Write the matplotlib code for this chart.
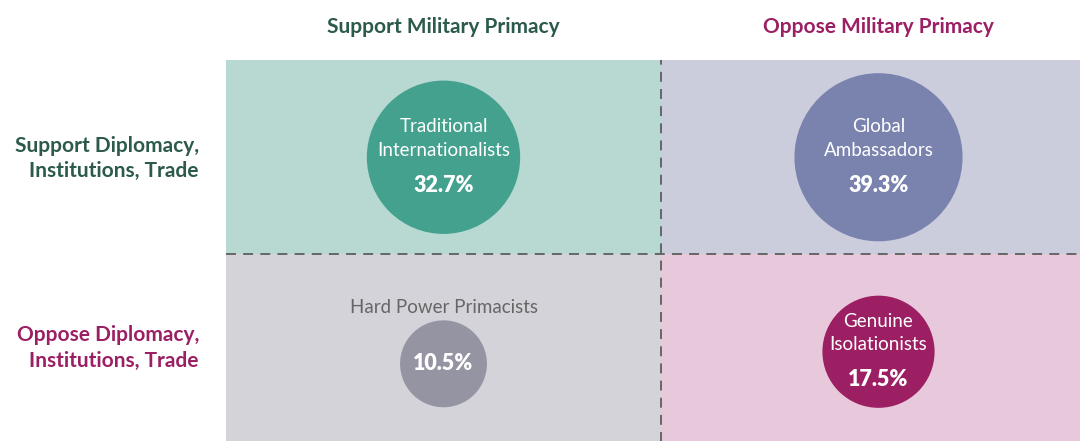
import matplotlib
matplotlib.use('Agg')
from matplotlib import pyplot as plt
from matplotlib.patches import Rectangle

plt.rcParams['font.family'] = ['Lato', 'DejaVu Sans']

# data
col_labels = ['Support Military Primacy', 'Oppose Military Primacy']
row_labels = ['Support Diplomacy,\nInstitutions, Trade', 'Oppose Diplomacy,\nInstitutions, Trade']
segments = ['Traditional\nInternationalists', 'Global\nAmbassadors', 'Hard Power Primacists', 'Genuine\nIsolationists']
shares = [32.7, 39.3, 10.5, 17.5]
seg_col = [0, 1, 0, 1]
seg_row = [0, 0, 1, 1]

header_colors = ['#2c5a4c', '#9c1f63']
bg_colors = ['#b7d9d2', '#cbcddd', '#d4d3d9', '#e8c9dc']
dot_colors = ['#43a18e', '#7a82ae', '#9594a3', '#9c1f63']

W, H = 1080, 441
fig = plt.figure(figsize=(W / 100, H / 100), dpi=100)
# quadrant grid runs a bit past the right and bottom edges
ax = fig.add_axes([226 / W, -8 / H, 870 / W, 389 / H])
ax.set_xlim(0, 2)
ax.set_ylim(2, 0)
ax.axis('off')

for i in range(4):
    ax.add_patch(Rectangle((seg_col[i], seg_row[i]), 1, 1, facecolor=bg_colors[i],
                           edgecolor='none', zorder=0))

ax.axvline(1, color='#5e5e5e', lw=1.3, linestyle=(0, (5.5, 4)), zorder=1)
ax.axhline(1, color='#5e5e5e', lw=1.3, linestyle=(0, (5.5, 4)), zorder=1)

# marker area proportional to share
size_per_pct = 372.8
for i in range(4):
    x = seg_col[i] + 0.5
    y = seg_row[i] + 0.5
    small = '\n' not in segments[i]
    if small:
        y += 0.062
    ax.scatter([x], [y], s=shares[i] * size_per_pct, color=dot_colors[i],
               edgecolors='none', zorder=2, clip_on=False)
    pct = f'{shares[i]:.1f}%'
    if small:
        ax.annotate(segments[i], (x, y), xytext=(0, 40.5), textcoords='offset points',
                    ha='center', va='center', fontsize=13.5, color='#666666', zorder=3)
        ax.annotate(pct, (x, y), xytext=(0, 0), textcoords='offset points',
                    ha='center', va='center', fontsize=15.5, fontweight='heavy',
                    color='white', zorder=3)
    else:
        ax.annotate(segments[i], (x, y), xytext=(0, 13.5), textcoords='offset points',
                    ha='center', va='center', fontsize=13.5, color='white',
                    linespacing=1.45, zorder=3)
        ax.annotate(pct, (x, y), xytext=(0, -20), textcoords='offset points',
                    ha='center', va='center', fontsize=15.5, fontweight='heavy',
                    color='white', zorder=3)

for c, lab in enumerate(col_labels):
    ax.annotate(lab, (c + 0.5, 0), xytext=(0, 23.5), textcoords='offset points',
                ha='center', va='center', fontsize=15, fontweight='bold',
                color=header_colors[c], annotation_clip=False)

for r, lab in enumerate(row_labels):
    ax.annotate(lab, (0, r + 0.5), xytext=(-19.5, -1 + 3.5 * r), textcoords='offset points',
                ha='right', va='center', ma='right', fontsize=15, fontweight='bold',
                color=header_colors[r], linespacing=1.3 + 0.08 * r, annotation_clip=False)

fig.savefig('out.png', dpi=100)
